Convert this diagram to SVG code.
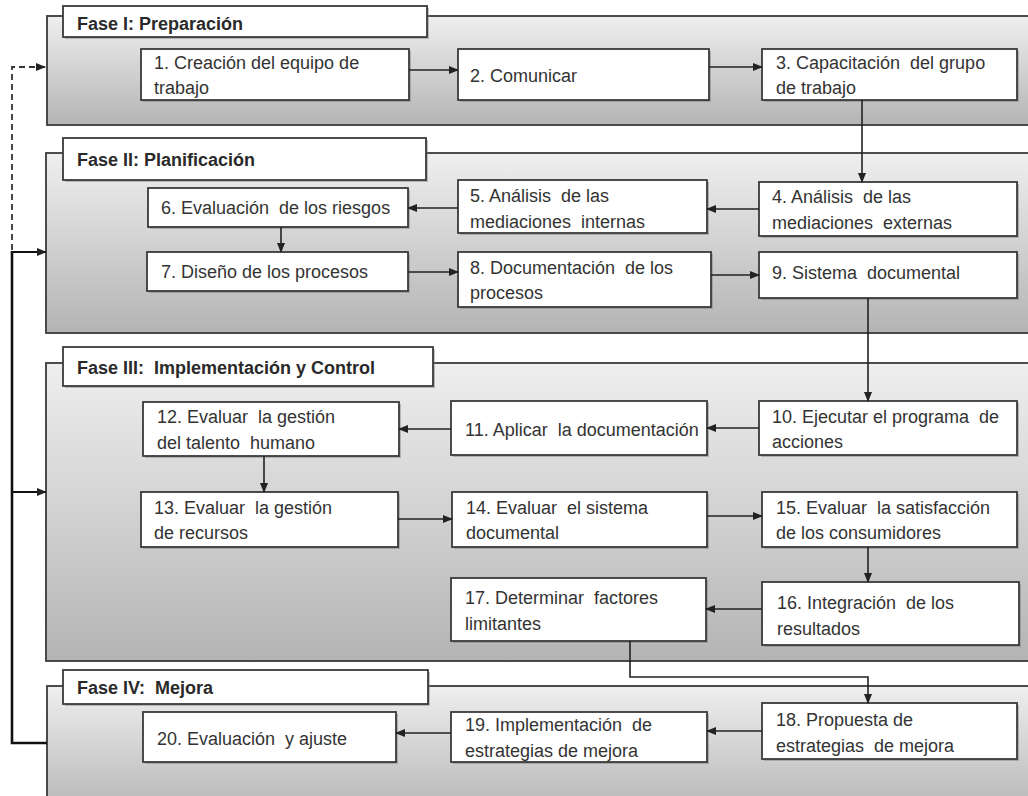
<svg xmlns="http://www.w3.org/2000/svg" width="1028" height="796" viewBox="0 0 1028 796">
<defs>
<linearGradient id="g" x1="0" y1="0" x2="0" y2="1">
<stop offset="0" stop-color="#efefef"/>
<stop offset="1" stop-color="#b4b4b4"/>
</linearGradient>
<marker id="ah" markerWidth="10" markerHeight="8" refX="9" refY="4" orient="auto" markerUnits="userSpaceOnUse">
<path d="M0,0 L10,4 L0,8 Z" fill="#222"/>
</marker>
<style>
.phase{fill:url(#g);stroke:#3a3a3a;stroke-width:1.8}
.hdr{fill:#fff;stroke:#3a3a3a;stroke-width:1.8}
.nd{fill:#fff;stroke:#3a3a3a;stroke-width:1.8}
.sh{fill:#7a7a7a;opacity:0.45}
.ht{font-family:"Liberation Sans",Arial,sans-serif;font-size:18px;font-weight:bold;fill:#2a2a2a;white-space:pre}
.t{font-family:"Liberation Sans",Arial,sans-serif;font-size:18px;fill:#333;white-space:pre}
.c{fill:none;stroke:#222;stroke-width:1.6;marker-end:url(#ah)}
.fb{fill:none;stroke:#111;stroke-width:2.6}
.fa{fill:none;stroke:#111;stroke-width:1.8;marker-end:url(#ah)}
.fd{fill:none;stroke:#333;stroke-width:1.8;stroke-dasharray:6,4}
</style>
</defs>
<rect width="1028" height="796" fill="#fff"/>

<g id="phase1">
<rect class="phase" x="47" y="16" width="1000" height="109"/>
<rect class="sh" x="65" y="8" width="364" height="31"/>
<rect class="hdr" x="63" y="6" width="364" height="31"/>
<text class="ht" x="77" y="30">Fase I: Preparación</text>
</g>
<g id="phase2">
<rect class="phase" x="46" y="153" width="1000" height="180"/>
<rect class="sh" x="65" y="140" width="363" height="42"/>
<rect class="hdr" x="63" y="138" width="363" height="42"/>
<text class="ht" x="77" y="166">Fase II: Planificación</text>
</g>
<g id="phase3">
<rect class="phase" x="46" y="363" width="1000" height="298"/>
<rect class="sh" x="65" y="349" width="370" height="39"/>
<rect class="hdr" x="63" y="347" width="370" height="39"/>
<text class="ht" x="77" y="374">Fase III:  Implementación y Control</text>
</g>
<g id="phase4">
<rect class="phase" x="47" y="686" width="1000" height="130"/>
<rect class="sh" x="65" y="672" width="365" height="34"/>
<rect class="hdr" x="63" y="670" width="365" height="34"/>
<text class="ht" x="77" y="694">Fase IV:  Mejora</text>
</g>

<g id="n1"><rect class="sh" x="143" y="51" width="268" height="51"/><rect class="nd" x="141" y="49" width="268" height="51"/><text class="t" x="154" y="69">1. Creación del equipo de<tspan x="154" y="94">trabajo</tspan></text></g>
<g id="n2"><rect class="sh" x="460" y="51" width="251" height="51"/><rect class="nd" x="458" y="49" width="251" height="51"/><text class="t" x="470" y="82">2. Comunicar</text></g>
<g id="n3"><rect class="sh" x="764" y="51" width="255" height="51"/><rect class="nd" x="762" y="49" width="255" height="51"/><text class="t" x="776" y="69">3. Capacitación  del grupo<tspan x="776" y="94">de trabajo</tspan></text></g>

<g id="n4"><rect class="sh" x="761" y="184" width="258" height="54"/><rect class="nd" x="759" y="182" width="258" height="54"/><text class="t" x="772" y="203">4. Análisis  de las<tspan x="772" y="229">mediaciones  externas</tspan></text></g>
<g id="n5"><rect class="sh" x="460" y="182" width="249" height="53"/><rect class="nd" x="458" y="180" width="249" height="53"/><text class="t" x="470" y="202">5. Análisis  de las<tspan x="470" y="228">mediaciones  internas</tspan></text></g>
<g id="n6"><rect class="sh" x="150" y="190" width="260" height="39"/><rect class="nd" x="148" y="188" width="260" height="39"/><text class="t" x="161" y="214">6. Evaluación  de los riesgos</text></g>
<g id="n7"><rect class="sh" x="149" y="254" width="261" height="39"/><rect class="nd" x="147" y="252" width="261" height="39"/><text class="t" x="161" y="278">7. Diseño de los procesos</text></g>
<g id="n8"><rect class="sh" x="460" y="254" width="253" height="55"/><rect class="nd" x="458" y="252" width="253" height="55"/><text class="t" x="470" y="274">8. Documentación  de los<tspan x="470" y="299">procesos</tspan></text></g>
<g id="n9"><rect class="sh" x="761" y="254" width="258" height="46"/><rect class="nd" x="759" y="252" width="258" height="46"/><text class="t" x="772" y="279">9. Sistema  documental</text></g>

<g id="n10"><rect class="sh" x="761" y="403" width="258" height="54"/><rect class="nd" x="759" y="401" width="258" height="54"/><text class="t" x="772" y="423">10. Ejecutar el programa  de<tspan x="772" y="448">acciones</tspan></text></g>
<g id="n11"><rect class="sh" x="453" y="403" width="256" height="54"/><rect class="nd" x="451" y="401" width="256" height="54"/><text class="t" x="465" y="436">11. Aplicar  la documentación</text></g>
<g id="n12"><rect class="sh" x="145" y="404" width="256" height="54"/><rect class="nd" x="143" y="402" width="256" height="54"/><text class="t" x="157" y="423">12. Evaluar  la gestión<tspan x="157" y="449">del talento  humano</tspan></text></g>
<g id="n13"><rect class="sh" x="143" y="494" width="257" height="55"/><rect class="nd" x="141" y="492" width="257" height="55"/><text class="t" x="154" y="514">13. Evaluar  la gestión<tspan x="154" y="539">de recursos</tspan></text></g>
<g id="n14"><rect class="sh" x="454" y="494" width="255" height="55"/><rect class="nd" x="452" y="492" width="255" height="55"/><text class="t" x="466" y="514">14. Evaluar  el sistema<tspan x="466" y="539">documental</tspan></text></g>
<g id="n15"><rect class="sh" x="764" y="494" width="255" height="55"/><rect class="nd" x="762" y="492" width="255" height="55"/><text class="t" x="776" y="514">15. Evaluar  la satisfacción<tspan x="776" y="539">de los consumidores</tspan></text></g>
<g id="n16"><rect class="sh" x="764" y="584" width="257" height="63"/><rect class="nd" x="762" y="582" width="257" height="63"/><text class="t" x="777" y="609">16. Integración  de los<tspan x="777" y="635">resultados</tspan></text></g>
<g id="n17"><rect class="sh" x="453" y="580" width="255" height="63"/><rect class="nd" x="451" y="578" width="255" height="63"/><text class="t" x="465" y="604">17. Determinar  factores<tspan x="465" y="630">limitantes</tspan></text></g>

<g id="n18"><rect class="sh" x="764" y="705" width="255" height="56"/><rect class="nd" x="762" y="703" width="255" height="56"/><text class="t" x="776" y="726">18. Propuesta de<tspan x="776" y="752">estrategias  de mejora</tspan></text></g>
<g id="n19"><rect class="sh" x="453" y="714" width="256" height="50"/><rect class="nd" x="451" y="712" width="256" height="50"/><text class="t" x="465" y="731">19. Implementación  de<tspan x="465" y="757">estrategias de mejora</tspan></text></g>
<g id="n20"><rect class="sh" x="145" y="714" width="253" height="50"/><rect class="nd" x="143" y="712" width="253" height="50"/><text class="t" x="157" y="745">20. Evaluación  y ajuste</text></g>

<g id="connectors">
<path class="c" d="M409,70 H458"/>
<path class="c" d="M709,67 H762"/>
<path class="c" d="M862,100 V182"/>
<path class="c" d="M759,209 H707"/>
<path class="c" d="M458,208 H408"/>
<path class="c" d="M281,227 V252"/>
<path class="c" d="M408,272 H458"/>
<path class="c" d="M711,275 H759"/>
<path class="c" d="M868,298 V401"/>
<path class="c" d="M759,428 H707"/>
<path class="c" d="M451,429 H399"/>
<path class="c" d="M264,456 V492"/>
<path class="c" d="M398,519 H452"/>
<path class="c" d="M707,516 H762"/>
<path class="c" d="M868,547 V582"/>
<path class="c" d="M762,609 H706"/>
<path class="c" d="M630,641 V677 H868 V703"/>
<path class="c" d="M762,731 H707"/>
<path class="c" d="M451,733 H396"/>
<path class="fb" d="M47,743 H12 V251"/>
<path class="fa" d="M12,252 H46"/>
<path class="fa" d="M12,492 H46"/>
<path class="fd" d="M12,250 V67 H46"/>
<path d="M36,63 L46,67 L36,71 Z" fill="#222"/>
</g>
</svg>
